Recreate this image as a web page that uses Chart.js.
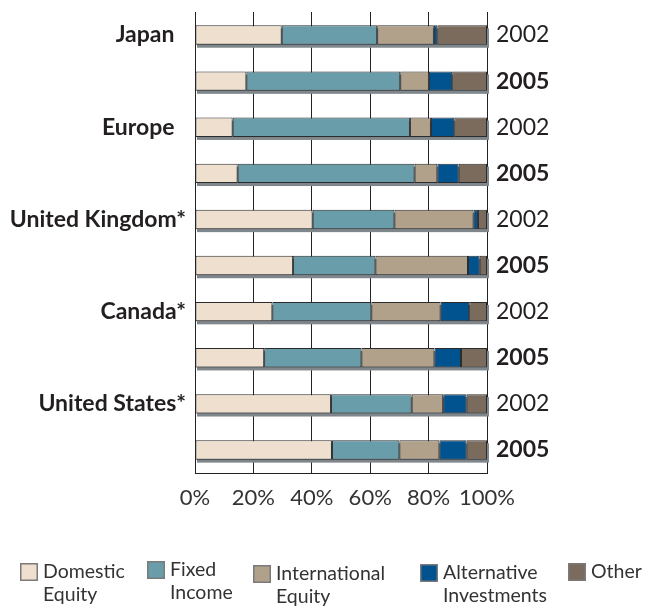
<!DOCTYPE html>
<html>
<head>
<meta charset="utf-8">
<script src="https://cdn.jsdelivr.net/npm/chart.js@4/dist/chart.umd.min.js"></script>
<style>
  html, body { margin: 0; padding: 0; background: #fff; }
  .chart-container { position: relative; width: 648px; height: 606px; }
</style>
</head>
<body>
<div class="chart-container">
  <canvas id="allocation-chart"></canvas>
</div>
<script>
// en space after names without an asterisk so the names line up like the original
const countryLabels = ['Japan\u2002', '', 'Europe\u2002', '', 'United Kingdom*', '', 'Canada*', '', 'United States*', ''];
const yearLabels = ['2002', '2005', '2002', '2005', '2002', '2005', '2002', '2005', '2002', '2005'];
const xTicks = [0, 20, 40, 60, 80, 100];

const domesticEquity = [29.7, 17.6, 12.9, 14.6, 40.3, 33.6, 26.5, 23.7, 46.6, 46.9];
const fixedIncome = [32.7, 52.7, 60.7, 60.6, 28.0, 28.2, 33.9, 33.3, 27.6, 23.1];
const internationalEquity = [19.4, 9.8, 7.2, 7.8, 27.1, 31.7, 23.7, 25.0, 10.8, 13.7];
const alternativeInvestments = [1.2, 8.0, 8.0, 7.3, 1.5, 4.0, 9.8, 9.1, 8.0, 9.3];
const other = [17.0, 11.9, 11.2, 9.7, 3.1, 2.5, 6.1, 8.9, 7.0, 7.0];

const seriesNames = ['Domestic Equity', 'Fixed Income', 'International Equity', 'Alternative Investments', 'Other'];
const seriesColors = ['#eedfcf', '#689da9', '#b1a18b', '#00538f', '#7b6b5c'];

const fontFamily = 'Lato, "Open Sans", sans-serif';
const textColor = '#231f20';

// grey drop shadow behind every full bar
const barShadow = {
  id: 'barShadow',
  beforeDatasetsDraw(chart) {
    const { ctx, scales } = chart;
    const meta = chart.getDatasetMeta(0);
    const x0 = scales.x.getPixelForValue(0);
    const x1 = scales.x.getPixelForValue(100);
    ctx.save();
    ctx.fillStyle = '#80878c';
    meta.data.forEach((bar, i) => {
      const yc = scales.y.getPixelForValue(i);
      const h = bar.height;
      ctx.fillRect(x0 + 2, yc - h / 2 + 3, x1 - x0, h);
    });
    ctx.restore();
  },
};

// legend with two-line labels under the plot
const legendX = [20, 147, 253, 420, 568];
const legendDy = [0, -2, 2, 1, 0];
const wrapLegend = {
  id: 'wrapLegend',
  afterDraw(chart) {
    const { ctx } = chart;
    ctx.save();
    chart.data.datasets.forEach((ds, i) => {
      const x = legendX[i];
      const y = 563 + legendDy[i];
      ctx.fillStyle = ds.backgroundColor;
      ctx.fillRect(x, y, 18, 18);
      ctx.strokeStyle = '#7a7a7a';
      ctx.lineWidth = 1.5;
      ctx.strokeRect(x + 0.75, y + 0.75, 16.5, 16.5);
      ctx.fillStyle = '#333';
      ctx.font = '19.5px ' + fontFamily;
      ctx.textBaseline = 'middle';
      ctx.textAlign = 'left';
      ds.label.split(' ').forEach((line, j) => {
        ctx.fillText(line, x + 23, y + 9 + j * 23);
      });
    });
    ctx.restore();
  },
};

// keep the side axes from pushing the plot down
const noEndPadding = (axis) => {
  axis.paddingTop = 0;
  axis.paddingBottom = 0;
};

const canvas = document.getElementById('allocation-chart');
new Chart(canvas, {
  type: 'bar',
  data: {
    labels: countryLabels,
    datasets: [domesticEquity, fixedIncome, internationalEquity, alternativeInvestments, other].map((values, i) => ({
      label: seriesNames[i],
      data: values,
      backgroundColor: seriesColors[i],
      borderColor: '#2b2b2b',
      borderWidth: 1,
      borderSkipped: false,
      barPercentage: 0.42,
      categoryPercentage: 1,
    })),
  },
  options: {
    indexAxis: 'y',
    responsive: true,
    maintainAspectRatio: false,
    animation: false,
    layout: {
      padding: { top: 12, left: 0, right: 0, bottom: 0 },
    },
    plugins: {
      legend: { display: false },
      tooltip: { enabled: false },
    },
    scales: {
      x: {
        stacked: true,
        min: 0,
        max: 100,
        afterFit: (axis) => { axis.height = 133; },
        afterBuildTicks: (axis) => { axis.ticks = xTicks.map((v) => ({ value: v })); },
        grid: {
          color: '#222',
          lineWidth: 1,
          drawTicks: false,
        },
        border: { display: true, color: '#222', width: 1 },
        ticks: {
          padding: 12,
          color: '#333',
          autoSkip: false,
          font: { size: 22, family: fontFamily },
          callback: (v) => v + '%',
          maxRotation: 0,
        },
      },
      y: {
        stacked: true,
        afterFit: (axis) => { axis.width = 195; noEndPadding(axis); },
        grid: { display: false, drawTicks: false },
        border: { display: true, color: '#222', width: 1 },
        ticks: {
          padding: 9,
          color: textColor,
          autoSkip: false,
          font: { size: 23, weight: 'bold', family: fontFamily },
        },
      },
      y2: {
        type: 'category',
        position: 'right',
        labels: yearLabels,
        offset: true,
        afterFit: (axis) => { axis.width = 161; noEndPadding(axis); },
        grid: { display: false, drawTicks: false },
        border: { display: true, color: '#222', width: 1 },
        ticks: {
          padding: 9,
          color: textColor,
          autoSkip: false,
          font: (c) => ({ size: 23, family: fontFamily, weight: c.index % 2 ? 'bold' : 'normal' }),
        },
      },
    },
  },
  plugins: [barShadow, wrapLegend],
});
</script>
</body>
</html>
